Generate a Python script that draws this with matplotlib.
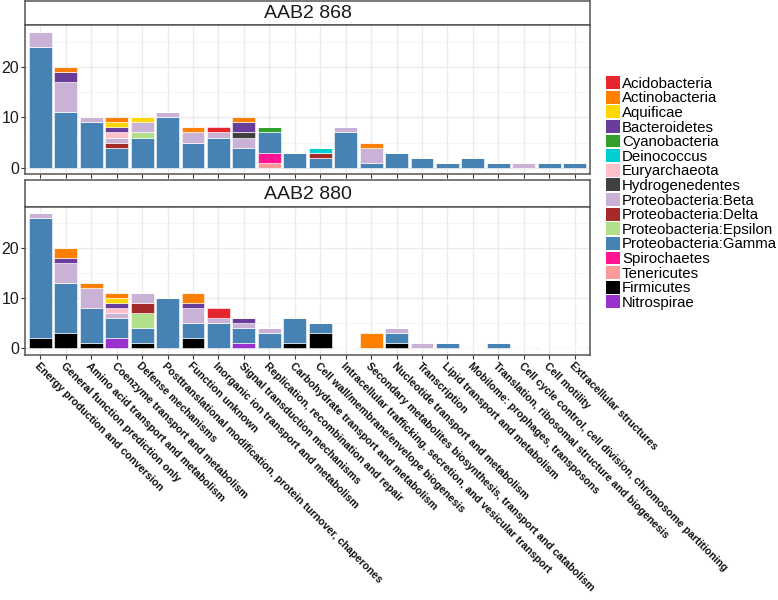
import numpy as np
import matplotlib.pyplot as plt
from matplotlib.patches import Patch

plt.rcParams['font.family'] = ['Liberation Sans', 'DejaVu Sans']

categories = [
    "Energy production and conversion",
    "General function prediction only",
    "Amino acid transport and metabolism",
    "Coenzyme transport and metabolism",
    "Defense mechanisms",
    "Posttranslational modification, protein turnover, chaperones",
    "Function unknown",
    "Inorganic ion transport and metabolism",
    "Signal transduction mechanisms",
    "Replication, recombination and repair",
    "Carbohydrate transport and metabolism",
    "Cell wall/membrane/envelope biogenesis",
    "Intracellular trafficking, secretion, and vesicular transport",
    "Secondary metabolites biosynthesis, transport and catabolism",
    "Nucleotide transport and metabolism",
    "Transcription",
    "Lipid transport and metabolism",
    "Mobilome: prophages, transposons",
    "Translation, ribosomal structure and biogenesis",
    "Cell cycle control, cell division, chromosome partitioning",
    "Cell motility",
    "Extracellular structures",
]

taxa = ["Acidobacteria", "Actinobacteria", "Aquificae", "Bacteroidetes",
        "Cyanobacteria", "Deinococcus", "Euryarchaeota", "Hydrogenedentes",
        "Proteobacteria:Beta", "Proteobacteria:Delta", "Proteobacteria:Epsilon",
        "Proteobacteria:Gamma", "Spirochaetes", "Tenericutes", "Firmicutes",
        "Nitrospirae"]

taxa_colors = ["#E6262E", "#FF7F00", "#FFD700", "#6A3D9A",
               "#33A02C", "#00CED1", "#FFC0CB", "#404040",
               "#CAB2D6", "#A52A2A", "#B2DF8A",
               "#4682B4", "#FF1493", "#FB9A99", "#000000",
               "#9932CC"]

# counts per taxon (taxa not listed are zero)
aab2_868 = {
    "Acidobacteria":          [0, 0, 0, 0, 0, 0, 0, 1, 0, 0, 0, 0, 0, 0, 0, 0, 0, 0, 0, 0, 0, 0],
    "Actinobacteria":         [0, 1, 0, 1, 0, 0, 1, 0, 1, 0, 0, 0, 0, 1, 0, 0, 0, 0, 0, 0, 0, 0],
    "Aquificae":              [0, 0, 0, 1, 1, 0, 0, 0, 0, 0, 0, 0, 0, 0, 0, 0, 0, 0, 0, 0, 0, 0],
    "Bacteroidetes":          [0, 2, 0, 1, 0, 0, 0, 0, 2, 0, 0, 0, 0, 0, 0, 0, 0, 0, 0, 0, 0, 0],
    "Cyanobacteria":          [0, 0, 0, 0, 0, 0, 0, 0, 0, 1, 0, 0, 0, 0, 0, 0, 0, 0, 0, 0, 0, 0],
    "Deinococcus":            [0, 0, 0, 0, 0, 0, 0, 0, 0, 0, 0, 1, 0, 0, 0, 0, 0, 0, 0, 0, 0, 0],
    "Euryarchaeota":          [0, 0, 0, 1, 0, 0, 0, 0, 0, 0, 0, 0, 0, 0, 0, 0, 0, 0, 0, 0, 0, 0],
    "Hydrogenedentes":        [0, 0, 0, 0, 0, 0, 0, 0, 1, 0, 0, 0, 0, 0, 0, 0, 0, 0, 0, 0, 0, 0],
    "Proteobacteria:Beta":    [3, 6, 1, 1, 2, 1, 2, 1, 2, 0, 0, 0, 1, 3, 0, 0, 0, 0, 0, 1, 0, 0],
    "Proteobacteria:Delta":   [0, 0, 0, 1, 0, 0, 0, 0, 0, 0, 0, 1, 0, 0, 0, 0, 0, 0, 0, 0, 0, 0],
    "Proteobacteria:Epsilon": [0, 0, 0, 0, 1, 0, 0, 0, 0, 0, 0, 0, 0, 0, 0, 0, 0, 0, 0, 0, 0, 0],
    "Proteobacteria:Gamma":   [24, 11, 9, 4, 6, 10, 5, 6, 4, 4, 3, 2, 7, 1, 3, 2, 1, 2, 1, 0, 1, 1],
    "Spirochaetes":           [0, 0, 0, 0, 0, 0, 0, 0, 0, 2, 0, 0, 0, 0, 0, 0, 0, 0, 0, 0, 0, 0],
    "Tenericutes":            [0, 0, 0, 0, 0, 0, 0, 0, 0, 1, 0, 0, 0, 0, 0, 0, 0, 0, 0, 0, 0, 0],
}

aab2_880 = {
    "Acidobacteria":          [0, 0, 0, 0, 0, 0, 0, 2, 0, 0, 0, 0, 0, 0, 0, 0, 0, 0, 0, 0, 0, 0],
    "Actinobacteria":         [0, 2, 1, 1, 0, 0, 2, 0, 0, 0, 0, 0, 0, 3, 0, 0, 0, 0, 0, 0, 0, 0],
    "Aquificae":              [0, 0, 0, 1, 0, 0, 0, 0, 0, 0, 0, 0, 0, 0, 0, 0, 0, 0, 0, 0, 0, 0],
    "Bacteroidetes":          [0, 1, 0, 1, 0, 0, 1, 0, 1, 0, 0, 0, 0, 0, 0, 0, 0, 0, 0, 0, 0, 0],
    "Euryarchaeota":          [0, 0, 0, 1, 0, 0, 0, 0, 0, 0, 0, 0, 0, 0, 0, 0, 0, 0, 0, 0, 0, 0],
    "Proteobacteria:Beta":    [1, 4, 4, 1, 2, 0, 3, 1, 1, 1, 0, 0, 0, 0, 1, 1, 0, 0, 0, 0, 0, 0],
    "Proteobacteria:Delta":   [0, 0, 0, 0, 2, 0, 0, 0, 0, 0, 0, 0, 0, 0, 0, 0, 0, 0, 0, 0, 0, 0],
    "Proteobacteria:Epsilon": [0, 0, 0, 0, 3, 0, 0, 0, 0, 0, 0, 0, 0, 0, 0, 0, 0, 0, 0, 0, 0, 0],
    "Proteobacteria:Gamma":   [24, 10, 7, 4, 3, 10, 3, 5, 3, 3, 5, 2, 0, 0, 2, 0, 1, 0, 1, 0, 0, 0],
    "Firmicutes":             [2, 3, 1, 0, 1, 0, 2, 0, 0, 0, 1, 3, 0, 0, 1, 0, 0, 0, 0, 0, 0, 0],
    "Nitrospirae":            [0, 0, 0, 2, 0, 0, 0, 0, 1, 0, 0, 0, 0, 0, 0, 0, 0, 0, 0, 0, 0, 0],
}

W, H = 778, 600
fig = plt.figure(figsize=(W / 100, H / 100), dpi=100)


def px_axes(x0, y0, x1, y1):
    return fig.add_axes([x0 / W, 1 - y1 / H, (x1 - x0) / W, (y1 - y0) / H])


border = "#555555"
x = np.arange(len(categories))
ymax = 27

panels = [("AAB2 868", aab2_868, 0.5, 25, 174.5),
          ("AAB2 880", aab2_880, 180, 206.5, 355)]

for k, (title, data, s_top, p_top, p_bot) in enumerate(panels):
    strip = px_axes(25, s_top, 590, p_top)
    strip.set_xticks([])
    strip.set_yticks([])
    for sp in strip.spines.values():
        sp.set_color(border)
        sp.set_linewidth(1.1)
    strip.text(0.5, 0.47, title, ha="center", va="center", fontsize=14,
               color="#1a1a1a", transform=strip.transAxes)

    ax = px_axes(25, p_top, 590, p_bot)
    bottom = np.zeros(len(categories))
    # ggplot stacking: last legend level at the bottom
    for name, col in list(zip(taxa, taxa_colors))[::-1]:
        vals = np.array(data.get(name, [0] * len(categories)), dtype=float)
        if vals.sum() == 0:
            continue
        ax.bar(x, vals, bottom=bottom, width=0.9, color=col,
               edgecolor="white", linewidth=0.4, zorder=3)
        bottom += vals

    ax.set_xlim(-0.6, len(categories) - 0.4)
    ax.set_ylim(-0.05 * ymax, 1.05 * ymax)
    ax.set_yticks([0, 10, 20])
    ax.set_yticks([5, 15, 25], minor=True)
    ax.set_xticks(x)
    ax.grid(True, which="major", color="#EBEBEB", linewidth=1.0, zorder=0)
    ax.grid(True, which="minor", axis="y", color="#F2F2F2", linewidth=0.6, zorder=0)
    ax.set_axisbelow(True)
    ax.tick_params(axis="both", which="major", length=2.9, width=0.8, color="#333333",
                   labelsize=11.5, labelcolor="#1a1a1a", pad=1.2)
    ax.tick_params(axis="y", which="minor", length=0)
    for sp in ax.spines.values():
        sp.set_color(border)
        sp.set_linewidth(1.1)

    if k == len(panels) - 1:
        ax.set_xticklabels(categories, rotation=-45, ha="left", va="top",
                           rotation_mode="anchor", fontsize=7.7,
                           fontweight="bold", color="#111111")
    else:
        ax.set_xticklabels([])

handles = [Patch(facecolor=c, edgecolor="none", label=t)
           for t, c in zip(taxa, taxa_colors)]
fig.legend(handles=handles, loc="upper left", bbox_to_anchor=(606 / W, 1 - 76 / H),
           frameon=False, fontsize=10.8, handlelength=0.95, handleheight=0.95,
           labelspacing=0.0, handletextpad=0.12, borderpad=0, borderaxespad=0)

fig.savefig("out.png", dpi=100)
